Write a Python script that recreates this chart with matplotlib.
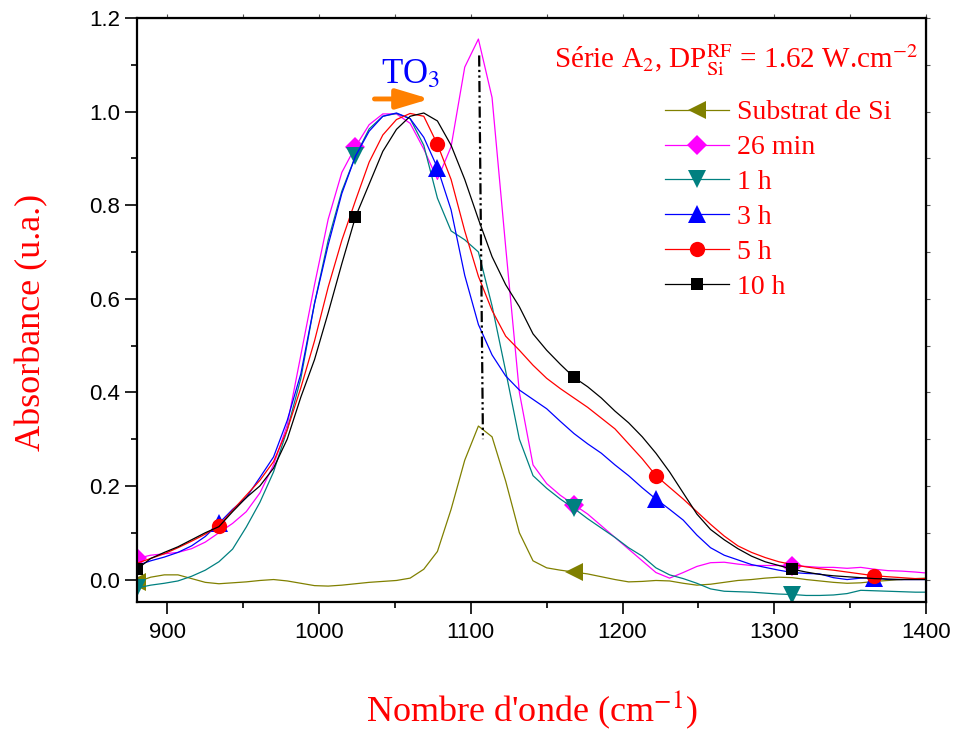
import numpy as np
import matplotlib
matplotlib.use('Agg')
import matplotlib.pyplot as plt
from matplotlib.ticker import MultipleLocator, FormatStrFormatter

plt.rcParams['font.family'] = ['Liberation Serif', 'DejaVu Serif']
plt.rcParams['mathtext.fontset'] = 'stix'

# Wavenumber grid (cm-1)
wavenumber = np.append(np.arange(880, 1394, 9), 1400)

substrat = [-0.005, 0.005, 0.010, 0.010, 0.002, -0.006, -0.009, -0.007, -0.005, -0.002,
            0.000, -0.003, -0.008, -0.013, -0.014, -0.012, -0.009, -0.006, -0.004, -0.002,
            0.003, 0.022, 0.060, 0.150, 0.255, 0.328, 0.305, 0.210, 0.100, 0.040,
            0.025, 0.020, 0.016, 0.012, 0.006, 0.000, -0.005, -0.004, -0.002, -0.003,
            -0.008, -0.012, -0.010, -0.006, -0.002, 0.000, 0.003, 0.005, 0.004, 0.000,
            -0.003, -0.006, -0.008, -0.007, -0.004, -0.002, 0.000, 0.002, 0.003]

min26 = [0.045, 0.052, 0.055, 0.058, 0.066, 0.080, 0.100, 0.120, 0.145, 0.185,
         0.245, 0.330, 0.480, 0.630, 0.770, 0.870, 0.925, 0.972, 0.995, 0.995,
         0.975, 0.920, 0.855, 0.925, 1.095, 1.155, 1.030, 0.710, 0.400, 0.245,
         0.205, 0.180, 0.160, 0.140, 0.115, 0.090, 0.065, 0.040, 0.015, 0.003,
         0.015, 0.028, 0.036, 0.037, 0.033, 0.030, 0.030, 0.030, 0.030, 0.028,
         0.026, 0.026, 0.024, 0.026, 0.022, 0.019, 0.018, 0.016, 0.014]

h1 = [-0.018, -0.012, -0.008, -0.003, 0.007, 0.020, 0.038, 0.065, 0.112, 0.165,
      0.230, 0.320, 0.430, 0.590, 0.725, 0.830, 0.905, 0.963, 0.990, 0.996,
      0.985, 0.928, 0.815, 0.745, 0.726, 0.700, 0.585, 0.445, 0.300, 0.222,
      0.195, 0.172, 0.152, 0.130, 0.110, 0.090, 0.068, 0.050, 0.025, 0.010,
      0.002, -0.008, -0.020, -0.025, -0.026, -0.027, -0.029, -0.031, -0.032, -0.034,
      -0.034, -0.033, -0.030, -0.023, -0.024, -0.025, -0.026, -0.027, -0.027]

h3 = [0.030, 0.040, 0.048, 0.058, 0.072, 0.092, 0.120, 0.150, 0.175, 0.218,
      0.262, 0.340, 0.440, 0.590, 0.715, 0.825, 0.905, 0.958, 0.990, 0.997,
      0.985, 0.945, 0.880, 0.790, 0.650, 0.545, 0.480, 0.435, 0.405, 0.385,
      0.365, 0.338, 0.312, 0.290, 0.270, 0.245, 0.222, 0.196, 0.172, 0.150,
      0.127, 0.095, 0.068, 0.052, 0.042, 0.032, 0.026, 0.020, 0.015, 0.013,
      0.012, 0.004, 0.000, 0.003, 0.004, 0.000, 0.000, 0.000, 0.000]

h5 = [0.035, 0.045, 0.055, 0.068, 0.082, 0.097, 0.115, 0.148, 0.180, 0.212,
      0.252, 0.320, 0.410, 0.510, 0.625, 0.725, 0.810, 0.892, 0.950, 0.983,
      0.996, 0.990, 0.930, 0.855, 0.745, 0.648, 0.575, 0.520, 0.490, 0.458,
      0.430, 0.408, 0.388, 0.368, 0.345, 0.322, 0.290, 0.258, 0.222, 0.197,
      0.172, 0.145, 0.118, 0.093, 0.072, 0.058, 0.047, 0.038, 0.032, 0.027,
      0.023, 0.020, 0.016, 0.012, 0.008, 0.006, 0.004, 0.002, 0.002]

h10 = [0.022, 0.045, 0.058, 0.070, 0.085, 0.100, 0.113, 0.145, 0.175, 0.200,
       0.238, 0.300, 0.390, 0.470, 0.570, 0.675, 0.775, 0.845, 0.915, 0.962,
       0.990, 0.997, 0.980, 0.928, 0.855, 0.770, 0.690, 0.630, 0.583, 0.525,
       0.490, 0.460, 0.432, 0.412, 0.388, 0.360, 0.335, 0.305, 0.270, 0.230,
       0.185, 0.140, 0.107, 0.085, 0.066, 0.050, 0.038, 0.030, 0.022, 0.016,
       0.011, 0.008, 0.006, 0.004, 0.002, 0.001, 0.000, 0.000, 0.000]

series = [substrat, min26, h1, h3, h5, h10]
labels = ['Substrat de Si', '26 min', '1 h', '3 h', '5 h', '10 h']
colors = ['#808000', '#FF00FF', '#008080', '#0000FF', '#FF0000', '#000000']
markers = ['<', 'D', 'v', '^', 'o', 's']
msizes = [13, 10, 13, 13, 11, 9]
mark_every = [(0, 32), (0, 16), (0, 16), (6, 16), (6, 16), (0, 16)]

W, H = 954, 729
fig = plt.figure(figsize=(W / 100, H / 100), dpi=100)
L, R, T, B = 137, 926, 18, 602
ax = fig.add_axes([L / W, 1 - B / H, (R - L) / W, (B - T) / H])

for y, lab, c, m, ms, me in zip(series, labels, colors, markers, msizes, mark_every):
    ax.plot(wavenumber, y, color=c, lw=0.9, marker=m, ms=ms, markevery=me,
            markeredgewidth=0, label=lab)

ax.set_xlim(880, 1400)
ax.set_ylim(-0.048, 1.2)
ax.xaxis.set_major_locator(MultipleLocator(100))
ax.xaxis.set_minor_locator(MultipleLocator(50))
ax.yaxis.set_major_locator(MultipleLocator(0.2))
ax.yaxis.set_minor_locator(MultipleLocator(0.1))
ax.yaxis.set_major_formatter(FormatStrFormatter('%.1f'))
ax.tick_params(which='major', direction='out', length=8.5, width=1.2, labelsize=16)
ax.tick_params(axis='x', which='major', pad=6)
ax.tick_params(which='minor', direction='out', length=4.3, width=1.2)
for lab in ax.get_xticklabels() + ax.get_yticklabels():
    lab.set_fontfamily('Liberation Sans')
for s in ax.spines.values():
    s.set_linewidth(1.6)

secx = ax.secondary_xaxis('top')
secx.xaxis.set_major_locator(MultipleLocator(50))
secx.tick_params(direction='out', length=3, width=0.8, labeltop=False, color='#555555')
secy = ax.secondary_yaxis('right')
secy.yaxis.set_major_locator(MultipleLocator(0.1))
secy.tick_params(direction='out', length=3, width=0.8, labelright=False, color='#555555')

ax.set_ylabel('Absorbance (u.a.)', color='red', fontsize=26)
ax.yaxis.set_label_coords(-0.112, 0.479)
ax.set_xlabel("Nombre d'onde (cm$^{-1}$)", color='red', fontsize=26)
ax.xaxis.set_label_coords(0.5, -0.148)

# vertical dash-dot-dot guide and TO3 shift arrow
ax.plot([1105.5, 1108], [1.12, 0.30], color='black', lw=1.6,
        linestyle=(0, (5, 1.5, 1, 1.5, 1, 1.5)))
ax.annotate('', xy=(1073, 1.027), xytext=(1036.5, 1.027),
            arrowprops=dict(arrowstyle='-|>,head_length=1.0,head_width=0.3',
                            mutation_scale=20, lw=3.5, color='#FF8000',
                            shrinkA=0, shrinkB=0))
ax.text(1040.8, 1.061, r'TO$_3$', color='blue', fontsize=25, ha='left', va='baseline')
ax.text(1395, 1.093, r'Série A$_2$, DP$_{\mathrm{Si}}^{\mathrm{RF}}$ = 1.62 W.cm$^{-2}$',
        color='red', fontsize=21, ha='right', va='baseline')

leg = ax.legend(loc='upper left', bbox_to_anchor=(665 / W, 1 - 100 / H),
                bbox_transform=fig.transFigure, frameon=False, fontsize=20,
                handlelength=2.3, handletextpad=0.3, labelspacing=0.34,
                borderpad=0, borderaxespad=0, numpoints=1)
for t in leg.get_texts():
    t.set_color('red')

fig.savefig('out.png', dpi=100)
